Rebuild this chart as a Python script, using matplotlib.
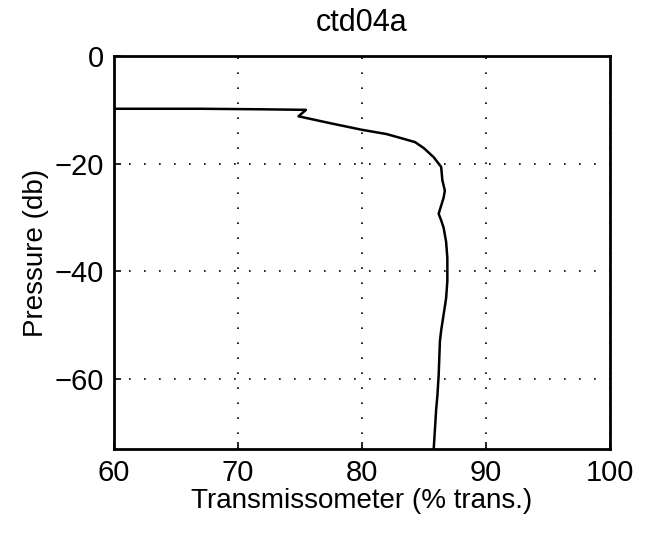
import matplotlib
matplotlib.use('Agg')
import matplotlib.pyplot as plt
import numpy as np

# Profile
transmission = [60.0, 67.0, 72.0, 75.5, 74.9, 77.5, 80.0, 82.0, 83.4, 84.3, 85.0,
                85.8, 86.4, 86.5, 86.7, 86.6, 86.2, 86.4, 86.6, 86.8, 86.9,
                86.9, 86.8, 86.6, 86.4, 86.3, 86.2, 86.1, 86.0, 85.8]
pressure = [-9.8, -9.8, -9.9, -10.0, -11.2, -12.5, -13.7, -14.5, -15.4, -16.0, -17.1,
            -18.8, -20.6, -23.1, -25.0, -26.3, -29.3, -30.5, -31.9, -34.5, -37.5,
            -41.8, -45.0, -48.0, -51.0, -53.0, -59.3, -63.0, -65.6, -73.0]

x_ticks = [60, 70, 80, 90, 100]
y_ticks = [-60, -40, -20, 0]

plt.rcParams['font.family'] = ['Liberation Sans', 'DejaVu Sans']

fig = plt.figure(figsize=(6.46, 5.49), dpi=100)
ax = fig.add_axes([0.176, 0.182, 0.768, 0.716])

ax.plot(transmission, pressure, color='black', lw=1.8)

ax.set_xlim(60, 100)
ax.set_ylim(-73, 0)
ax.set_xticks(x_ticks)
ax.set_yticks(y_ticks)
ax.grid(True, color='black', linestyle=(0, (1, 8)), linewidth=1.2)
ax.tick_params(direction='in', length=5, width=1.2, labelsize=21, pad=7)
for s in ax.spines.values():
    s.set_linewidth(2.0)

ax.set_title('ctd04a', fontsize=22, pad=18)
ax.set_xlabel('Transmissometer (% trans.)', fontsize=20, labelpad=1)
ax.set_ylabel('Pressure (db)', fontsize=20, labelpad=4)

fig.savefig('out.png', dpi=100)
